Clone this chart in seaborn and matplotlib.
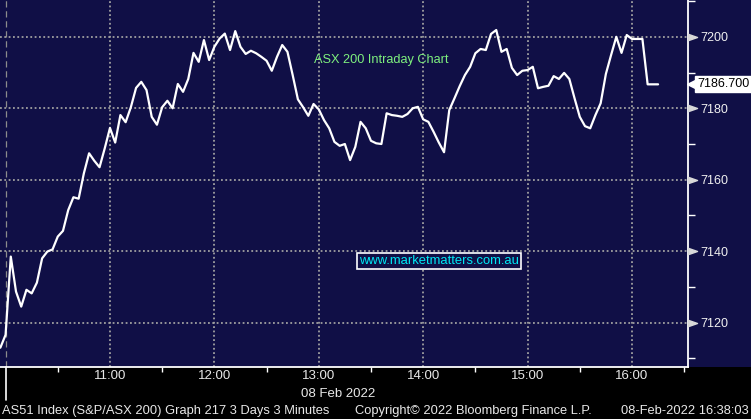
import pandas as pd
import seaborn as sns
import matplotlib.pyplot as plt
from matplotlib.patches import Rectangle
from matplotlib.path import Path
from matplotlib.ticker import FixedLocator, MultipleLocator

# ASX 200 3-minute bars, 08 Feb 2022 (first value = last bar of previous session)
prices = [
    7113.0,
    7116.6, 7138.5, 7128.7, 7124.5, 7129.2, 7128.2, 7131.2, 7138.0, 7139.9, 7140.5,
    7144.1, 7145.7, 7151.5, 7155.1, 7154.7, 7161.8, 7167.4, 7165.3, 7163.5, 7168.8,
    7174.5, 7170.4, 7178.1, 7176.1, 7180.3, 7185.7, 7187.4, 7185.1, 7177.6, 7175.4,
    7180.3, 7182.1, 7180.0, 7186.8, 7184.6, 7188.2, 7195.5, 7193.0, 7199.1, 7193.5,
    7197.2, 7199.5, 7200.9, 7196.3, 7201.6, 7197.2, 7195.2, 7196.1, 7195.4, 7194.4,
    7193.3, 7190.5, 7194.4, 7197.7, 7195.8, 7189.3, 7182.5, 7180.3, 7177.9, 7181.2,
    7179.7, 7176.7, 7174.4, 7170.6, 7169.5, 7170.0, 7165.5, 7169.2, 7176.2, 7174.4,
    7170.9, 7170.2, 7170.0, 7178.6, 7178.1, 7177.9, 7177.6, 7178.4, 7180.0, 7180.4,
    7176.9, 7176.2, 7173.4, 7170.4, 7167.7, 7179.5, 7182.8, 7186.2, 7189.3, 7191.6,
    7195.4, 7196.6, 7196.3, 7200.8, 7201.9, 7195.8, 7196.6, 7191.3, 7189.3, 7190.5,
    7190.7, 7191.6, 7185.6, 7186.0, 7186.3, 7189.0, 7188.2, 7189.9, 7188.2, 7182.8,
    7177.6, 7175.0, 7174.4, 7178.1, 7181.4, 7189.6, 7194.9, 7200.0, 7195.5, 7200.5,
    7199.4, 7199.4, 7199.4, 7186.7, 7186.7, 7186.7,
]
# minutes after 10:00 (3-minute bars)
minutes = [-3] + list(range(0, 3 * (len(prices) - 1), 3))

hour_ticks = [60, 120, 180, 240, 300, 360]
hour_labels = ["11:00", "12:00", "13:00", "14:00", "15:00", "16:00"]
half_hour_ticks = [30, 90, 150, 210, 270, 330, 390]
price_ticks = [7120, 7140, 7160, 7180, 7200]
last_price = 7186.7

NAVY = "#100f46"
GRID = "#a0a0a0"
TXT = "#e8e8e8"

sns.set_style("dark")
plt.rcParams["font.family"] = ["Liberation Sans", "DejaVu Sans"]

df = pd.DataFrame({"minute": minutes, "price": prices})

fig = plt.figure(figsize=(7.51, 4.19), dpi=100, facecolor="black")
ax = fig.add_axes([0, 52 / 419, 688 / 751, 367 / 419])
ax.set_facecolor(NAVY)
fig.add_artist(Rectangle((688 / 751, 52 / 419), 63 / 751, 367 / 419,
                         transform=fig.transFigure, facecolor=NAVY,
                         edgecolor="none", zorder=-1))

sns.lineplot(data=df, x="minute", y="price", color="white", linewidth=1.6,
             ax=ax, zorder=5)

ax.set_xlim(-3.2, 392.2)
ax.set_ylim(7107.6, 7210.3)
ax.set_xlabel("")
ax.set_ylabel("")

# x axis: labels at hours, small ticks at half hours
ax.xaxis.set_major_locator(FixedLocator(hour_ticks))
ax.set_xticklabels(hour_labels)
ax.xaxis.set_minor_locator(FixedLocator(half_hour_ticks))
ax.tick_params(axis="x", which="major", length=0, pad=2.5, labelsize=9.5,
               labelcolor=TXT, bottom=True)
ax.tick_params(axis="x", which="minor", direction="out", length=3.5, width=1,
               color="white", bottom=True)

# y axis on the right
ax.yaxis.tick_right()
ax.yaxis.set_major_locator(FixedLocator(price_ticks))
ax.yaxis.set_minor_locator(MultipleLocator(10))
ax.tick_params(axis="y", which="major", length=0, pad=9, labelsize=9,
               labelcolor="#f0f0f0")
ax.tick_params(axis="y", which="minor", direction="out", length=5, width=1,
               color="white", right=True)

tri = Path([(0, -0.35), (1, 0), (0, 0.35), (0, -0.35)],
           [Path.MOVETO, Path.LINETO, Path.LINETO, Path.CLOSEPOLY])
ax.plot([1.0] * len(price_ticks), price_ticks, marker=tri, markersize=13,
        linestyle="none", color="#d8d8d8", transform=ax.get_yaxis_transform(),
        clip_on=False, zorder=6)

ax.grid(True, which="major", color=GRID, linestyle=(0, (1, 1.4)), linewidth=1.3)
ax.set_axisbelow(True)

for side in ["top", "left"]:
    ax.spines[side].set_visible(False)
for side in ["bottom", "right"]:
    ax.spines[side].set_color("white")
    ax.spines[side].set_linewidth(1.3)

# session start separator
ax.axvline(0, color="#8c8c8c", linestyle=(0, (5, 3)), linewidth=0.9, zorder=2)
ax.plot([0, 0], [0, -0.09], transform=ax.get_xaxis_transform(), color="white",
        linewidth=1.2, clip_on=False)

ax.text(314 / 688, 1 - 60.5 / 367, "ASX 200 Intraday Chart", transform=ax.transAxes,
        ha="left", va="center", fontsize=9.2, color="#7ef07e")
ax.text(439 / 688, 1 - 261 / 367, "www.marketmatters.com.au", transform=ax.transAxes,
        ha="center", va="center", fontsize=9.4, color="#00e8f4",
        bbox=dict(boxstyle="square,pad=0.12", facecolor=NAVY, edgecolor="white",
                  linewidth=1.2))

# last price tag
ax.text(1 + 9 / 688, last_price, f"{last_price:.3f}", transform=ax.get_yaxis_transform(),
        ha="left", va="center", fontsize=9, color="black", clip_on=False,
        bbox=dict(boxstyle="square,pad=0.15", facecolor="white", edgecolor="white"))
ax.plot([1 + 4 / 688], [last_price], marker="<", markersize=7, color="white",
        transform=ax.get_yaxis_transform(), clip_on=False, linestyle="none")

fig.text(338 / 751, 1 - 394 / 419, "08 Feb 2022", ha="center", va="center",
         fontsize=9.5, color=TXT)
fig.text(2 / 751, 1 - 410.5 / 419, "AS51 Index (S&P/ASX 200) Graph 217 3 Days 3 Minutes",
         ha="left", va="center", fontsize=9.3, color=TXT)
fig.text(355 / 751, 1 - 410.5 / 419, "Copyright\u00a9 2022 Bloomberg Finance L.P.",
         ha="left", va="center", fontsize=9.3, color=TXT)
fig.text(749 / 751, 1 - 410.5 / 419, "08-Feb-2022 16:38:03",
         ha="right", va="center", fontsize=9.3, color=TXT)

fig.savefig("out.png", dpi=100, facecolor="black")
